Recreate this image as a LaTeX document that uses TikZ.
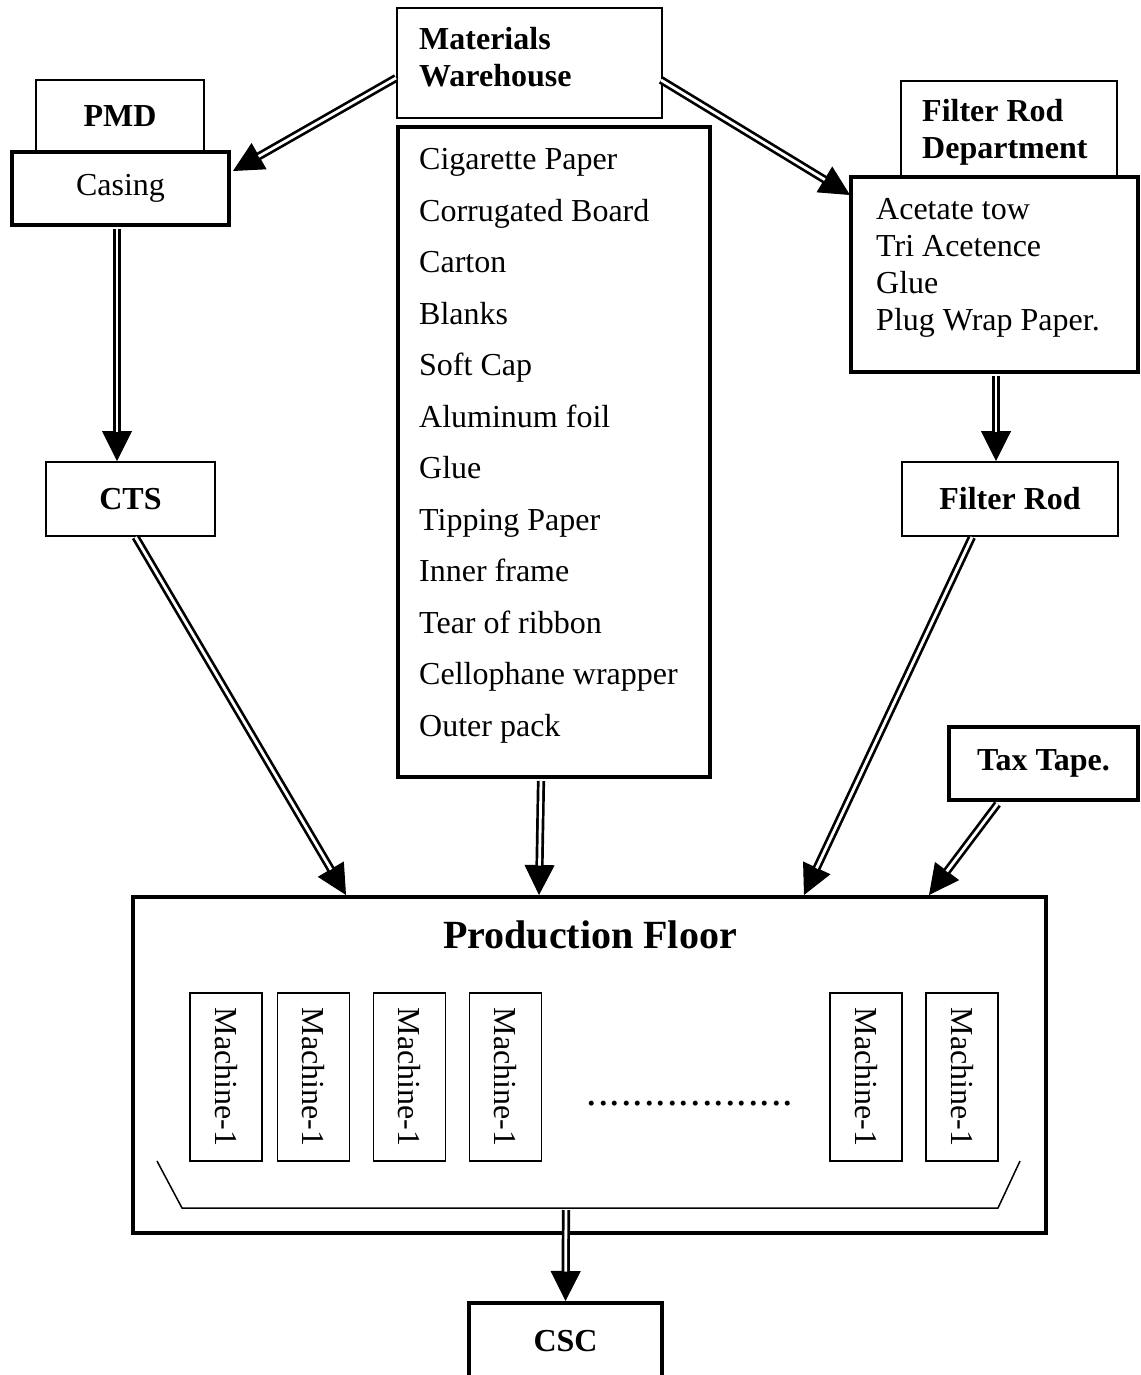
\documentclass[tikz,border=0pt]{standalone}
\usepackage{fontspec}
\setmainfont{Liberation Serif}
\usetikzlibrary{arrows.meta,calc}
\newcommand{\dblarrow}[2]{%
  \draw[line width=1pt, -{Triangle[length=30pt,width=30pt]}] #1 -- #2;
  \draw[line width=2.7pt, double distance=2.8pt, shorten >=29.5pt] #1 -- #2;
}
\begin{document}
\begin{tikzpicture}[x=1pt,y=-1pt,
  thinbox/.style={draw, line width=2pt, inner sep=0pt, fill=white,
    font=\bfseries\fontsize{32}{36.8}\selectfont},
  thickbox/.style={draw, line width=4pt, inner sep=0pt, fill=white,
    font=\fontsize{32}{36.8}\selectfont},
  plaintxt/.style={inner sep=0pt, align=left, font=\fontsize{32}{36.8}\selectfont},
  boldtxt/.style={inner sep=0pt, align=left, font=\bfseries\fontsize{32}{36.8}\selectfont},
  machine/.style={draw, line width=1.5pt, inner sep=0pt, rotate=-90,
    minimum width=168pt, minimum height=72pt, font=\fontsize{32}{36.8}\selectfont},
]
\useasboundingbox (0,0) rectangle (1140,1375);

% Materials warehouse and list
\node[thinbox, minimum width=265pt, minimum height=110pt] (mw) at (529.5,63) {};
\node[boldtxt, anchor=west] (mwtext) at (419,57) {Materials\\Warehouse};
\node[thickbox, minimum width=312pt, minimum height=650pt] (mlist) at (554,452) {};
\node[plaintxt, anchor=west, font=\fontsize{32}{51.5}\selectfont] (mlisttext) at (419,446)
  {Cigarette Paper\\Corrugated Board\\Carton\\Blanks\\Soft Cap\\Aluminum foil\\Glue\\Tipping Paper\\Inner frame\\Tear of ribbon\\Cellophane wrapper\\Outer pack};

% PMD / Casing
\node[thinbox, minimum width=168pt, minimum height=72pt] (pmd) at (120,116) {PMD};
\node[thickbox, minimum width=217pt, minimum height=73pt] (casing) at (120.5,188.5) {Casing};

% CTS
\node[thinbox, minimum width=169pt, minimum height=74pt] (cts) at (130.5,499) {CTS};

% Filter rod department
\node[thinbox, minimum width=216pt, minimum height=96pt] (frd) at (1009,129) {};
\node[boldtxt, anchor=west] (frdtext) at (922,132) {Filter Rod\\Department};
\node[thickbox, minimum width=287pt, minimum height=195pt] (flist) at (994.5,274.5) {};
\node[plaintxt, anchor=west, font=\fontsize{32}{37}\selectfont] (flisttext) at (876,268)
  {Acetate tow\\Tri Acetence\\Glue\\Plug Wrap Paper.};
\node[thinbox, minimum width=216pt, minimum height=74pt] (frod) at (1010,499) {Filter Rod};

% Tax tape
\node[thickbox, minimum width=189pt, minimum height=73pt, font=\bfseries\fontsize{32}{36.8}\selectfont] (tax) at (1043.5,763.5) {Tax Tape.};

% Production floor
\node[thickbox, minimum width=913pt, minimum height=336pt] (pf) at (589.5,1065) {};
\node[inner sep=0pt, font=\bfseries\fontsize{40}{46}\selectfont] (pftitle) at (590,935) {Production Floor};
\node[machine] (m1) at (226,1077) {Machine-1};
\node[machine] (m2) at (313.5,1077) {Machine-1};
\node[machine] (m3) at (409.5,1077) {Machine-1};
\node[machine] (m4) at (505.5,1077) {Machine-1};
\node[machine] (m5) at (866,1077) {Machine-1};
\node[machine] (m6) at (962,1077) {Machine-1};
\node[inner sep=0pt, font=\fontsize{42}{46}\selectfont] (dots) at (690,1104)
  {.\kern1.03pt.\kern1.03pt.\kern1.03pt.\kern1.03pt.\kern1.03pt.\kern1.03pt.\kern1.03pt.\kern1.03pt.\kern1.03pt.\kern1.03pt.\kern1.03pt.\kern1.03pt.\kern1.03pt.\kern1.03pt.\kern1.03pt.\kern1.03pt.\kern1.03pt.};
\coordinate (bl) at (157,1161);
\coordinate (br) at (1020,1161);
\draw[line width=1.5pt] (bl) -- (182,1208) -- (998,1208) -- (br);

% CSC
\node[thickbox, minimum width=193pt, minimum height=77pt, font=\bfseries\fontsize{32}{36.8}\selectfont] (csc) at (565.5,1341.5) {CSC};

% Connectors
\dblarrow{($(mw.west)+(0,15)$)}{($(casing.north east)+(2,21)$)}
\dblarrow{($(mw.east)+(-2,17)$)}{($(flist.north west)+(1,20)$)}
\dblarrow{($(casing.south)+(-3.5,2)$)}{($(cts.north)+(-13.5,0)$)}
\dblarrow{($(flist.south)+(1.5,2)$)}{($(frod.north)+(-14,0)$)}
\dblarrow{($(cts.south)+(5,0)$)}{($(pf.north west)+(215,0)$)}
\dblarrow{($(mlist.south)+(-13,2)$)}{($(pf.north west)+(408,0)$)}
\dblarrow{($(frod.south)+(-38,0)$)}{($(pf.north west)+(673,0)$)}
\dblarrow{($(tax.south)+(-46,2)$)}{($(pf.north east)+(-119,0)$)}
\dblarrow{($(pf.south)+(-23.5,-25)$)}{(csc.north)}
\end{tikzpicture}
\end{document}
